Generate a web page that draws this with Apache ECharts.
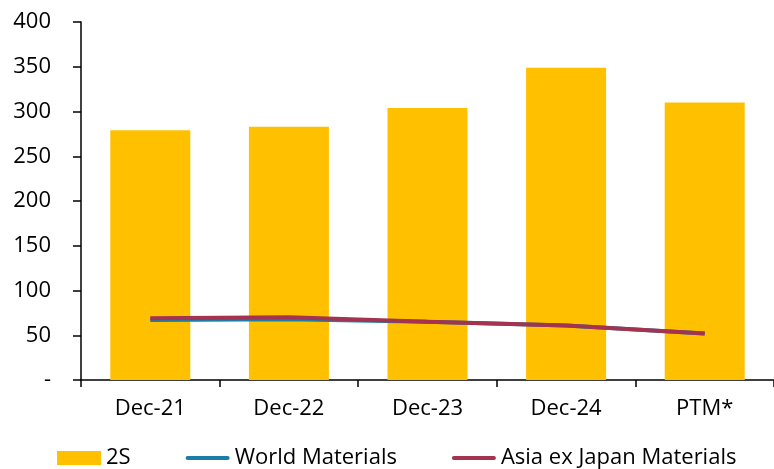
<!DOCTYPE html>
<html>
<head>
<meta charset="utf-8">
<script src="https://cdn.jsdelivr.net/npm/echarts@6/dist/echarts.min.js"></script>
<style>
  html, body { margin: 0; padding: 0; background: #fff; }
  #chart { width: 774px; height: 469px; }
</style>
</head>
<body>
<div id="chart"></div>
<script>
  // data
  var categories = ['Dec-21', 'Dec-22', 'Dec-23', 'Dec-24', 'PTM*'];
  var values2S = [279, 283, 304, 349, 310];
  var worldMaterials = [67, 68, 65, 61, 52];
  var asiaExJapan = [69, 70, 65, 61, 52];

  var FONT = '"Open Sans", sans-serif';
  var LINE_ICON = 'path://M2,0 L44,0 A2,2 0 0 1 44,4 L2,4 A2,2 0 0 1 2,0 Z';

  var chart = echarts.init(document.getElementById('chart'));
  chart.setOption({
    animation: false,
    grid: { left: 81, right: 0, top: 22, bottom: 89, containLabel: false },
    legend: {
      left: 57,
      top: 447,
      padding: 0,
      itemGap: 55,
      itemWidth: 44,
      itemHeight: 14,
      textStyle: { fontFamily: FONT, fontSize: 22, color: '#000' },
      data: [
        { name: '2S', icon: 'rect' },
        { name: 'World Materials', icon: LINE_ICON },
        { name: 'Asia ex Japan Materials', icon: LINE_ICON }
      ]
    },
    xAxis: {
      type: 'category',
      data: categories,
      axisLine: { lineStyle: { color: '#000', width: 1.5 } },
      axisTick: { show: true, length: 7, lineStyle: { color: '#000', width: 1.5 } },
      axisLabel: { margin: 18, fontFamily: FONT, fontSize: 22, color: '#000' }
    },
    yAxis: {
      type: 'value',
      min: 0,
      max: 400,
      interval: 50,
      splitLine: { show: false },
      axisLine: { show: true, lineStyle: { color: '#000', width: 1.5 } },
      axisTick: { show: true, length: 8, lineStyle: { color: '#000', width: 1.5 } },
      axisLabel: {
        margin: 30,
        fontFamily: FONT,
        fontSize: 22,
        color: '#000',
        formatter: function (v) { return v === 0 ? '-' : v; }
      }
    },
    series: [
      {
        name: '2S',
        type: 'bar',
        data: values2S,
        barWidth: 80,
        itemStyle: { color: '#FFC000' }
      },
      {
        name: 'World Materials',
        type: 'line',
        data: worldMaterials,
        symbol: 'none',
        lineStyle: { color: '#1A7EA6', width: 4 },
        itemStyle: { color: '#1A7EA6' }
      },
      {
        name: 'Asia ex Japan Materials',
        type: 'line',
        data: asiaExJapan,
        symbol: 'none',
        lineStyle: { color: '#A3334F', width: 4 },
        itemStyle: { color: '#A3334F' }
      }
    ]
  });
</script>
</body>
</html>
